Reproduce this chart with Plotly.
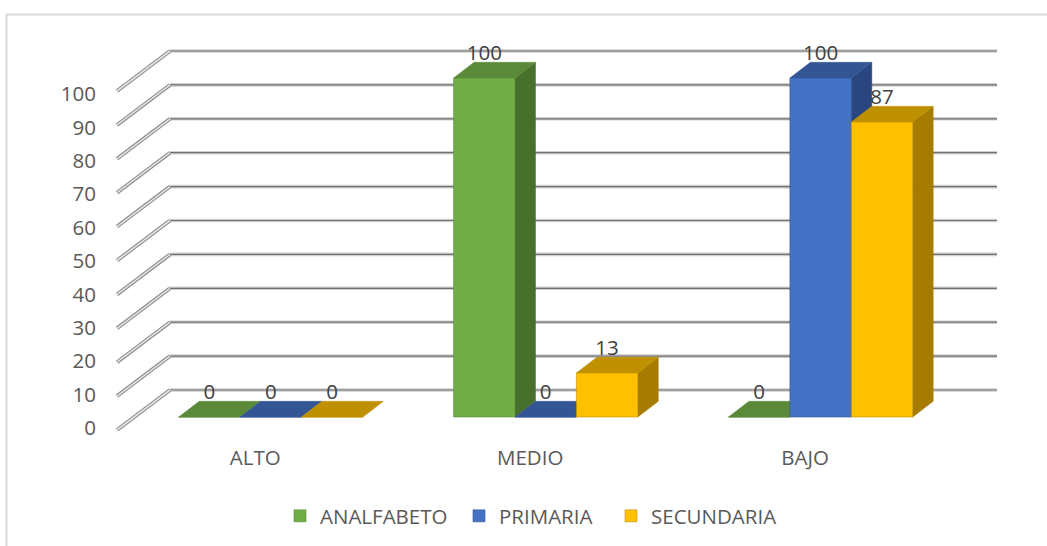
import plotly.graph_objects as go

# ---- data ----
categories = ["ALTO", "MEDIO", "BAJO"]
series_names = ["ANALFABETO", "PRIMARIA", "SECUNDARIA"]
analfabeto = [0, 100, 0]
primaria = [0, 0, 100]
secundaria = [0, 13, 87]
value_ticks = [0, 10, 20, 30, 40, 50, 60, 70, 80, 90, 100]

# ---- style ----
front_colors = ["#70ad47", "#4472c4", "#ffc000"]
top_colors = ["#5a8a39", "#335593", "#bf9000"]
side_colors = ["#47702d", "#2a4680", "#a67c00"]
legend_ids = ["legend", "legend2", "legend3"]
legend_x_px = [280, 459, 611]
FONT = "Open Sans, sans-serif"
FONT_SIZE = 20.5
W, H = 1047, 546

# pixel calibration of the oblique projection
X0_PX, X_STEP = 270.8, 274.9      # category 0 centre, px per category
Y0_PX, Y_STEP = 417.0, 3.39       # value 0 of the front plane, px per unit
BAR_W = 61.4 / X_STEP
DEPTH_X = 20.5 / X_STEP
DEPTH_Y = 15.7 / Y_STEP
WALL_BACK_X = (170 - X0_PX) / X_STEP
WALL_FRONT_X = (117 - X0_PX) / X_STEP
WALL_RIGHT_X = (997 - X0_PX) / X_STEP
WALL_BACK_DY = (Y0_PX - 390) / Y_STEP
WALL_FRONT_DY = (Y0_PX - 430) / Y_STEP

x_range = [-X0_PX / X_STEP, (W - X0_PX) / X_STEP]
y_range = [(Y0_PX - H) / Y_STEP, Y0_PX / Y_STEP]
tick_step = (428 - 94) / 100
y3_range = [(428 - H) / tick_step, 428 / tick_step]

all_series = [analfabeto, primaria, secundaria]
fig = go.Figure()

# walls: gridlines on the back wall and depth lines on the side wall
grid_x, grid_y, wall_x, wall_y = [], [], [], []
for v in value_ticks:
    grid_x += [WALL_BACK_X, WALL_RIGHT_X, None]
    grid_y += [v + WALL_BACK_DY, v + WALL_BACK_DY, None]
    wall_x += [WALL_FRONT_X, WALL_BACK_X, None]
    wall_y += [v + WALL_FRONT_DY, v + WALL_BACK_DY, None]
for xs, ys, styles in (
    (grid_x, grid_y, (("#cfcfcf", 3.6), ("#707070", 1.2))),
    (wall_x, wall_y, (("#8c8c8c", 3.8), ("#e2e2e2", 1.6))),
):
    for color, width in styles:
        fig.add_trace(go.Scatter(x=xs, y=ys, mode="lines", yaxis="y",
                                 line=dict(color=color, width=width),
                                 hoverinfo="skip", showlegend=False))

# depth faces (painted left to right, behind all front faces)
for c in range(len(categories)):
    for s, vals in enumerate(all_series):
        v = vals[c]
        left = c + (s - 1.5) * BAR_W
        right = left + BAR_W
        if v > 0:
            fig.add_trace(go.Scatter(
                x=[right, right + DEPTH_X, right + DEPTH_X, right, right],
                y=[0, DEPTH_Y, v + DEPTH_Y, v, 0],
                mode="lines", fill="toself", fillcolor=side_colors[s],
                line=dict(color=side_colors[s], width=0.5), yaxis="y",
                hoverinfo="skip", showlegend=False))
        fig.add_trace(go.Scatter(
            x=[left, right, right + DEPTH_X, left + DEPTH_X, left],
            y=[v, v, v + DEPTH_Y, v + DEPTH_Y, v],
            mode="lines", fill="toself", fillcolor=top_colors[s],
            line=dict(color=top_colors[s], width=0.5), yaxis="y",
            hoverinfo="skip", showlegend=False))

# front faces
for s, vals in enumerate(all_series):
    fig.add_trace(go.Bar(x=list(range(len(categories))), y=vals,
                         name=series_names[s], yaxis="y2",
                         legend=legend_ids[s],
                         width=BAR_W,
                         offset=(s - 1.5) * BAR_W,
                         marker=dict(color=front_colors[s],
                                     line=dict(color=top_colors[s], width=0.6))))

# data labels
for s, vals in enumerate(all_series):
    fig.add_trace(go.Scatter(
        x=[c + (s - 1) * BAR_W for c in range(len(categories))],
        y=[v + 23.5 / Y_STEP for v in vals],
        text=[str(v) for v in vals],
        mode="text", textposition="middle center", yaxis="y2",
        textfont=dict(family=FONT, size=FONT_SIZE, color="#404040"),
        hoverinfo="skip", showlegend=False))

# carrier for the value tick labels
fig.add_trace(go.Scatter(x=[0, 0], y=[0, 100], mode="markers", yaxis="y3",
                         marker=dict(opacity=0), hoverinfo="skip",
                         showlegend=False))

hidden = dict(visible=False, fixedrange=True)
legend_layouts = {
    lid: dict(orientation="h", x=px / W, xanchor="left",
              y=1 - 516 / H, yanchor="middle", bgcolor="rgba(0,0,0,0)",
              font=dict(family=FONT, size=FONT_SIZE, color="#595959"))
    for lid, px in zip(legend_ids, legend_x_px)
}
fig.update_layout(
    width=W, height=H,
    margin=dict(l=0, r=0, t=0, b=0),
    paper_bgcolor="white", plot_bgcolor="rgba(0,0,0,0)",
    font=dict(family=FONT, color="#595959", size=FONT_SIZE),
    barmode="overlay",
    xaxis=dict(range=x_range, domain=[0, 1],
               anchor="free", position=1 - Y0_PX / H,
               tickmode="array",
               tickvals=[i - 15.5 / X_STEP for i in range(len(categories))],
               ticktext=categories,
               ticks="outside", ticklen=22, tickcolor="rgba(0,0,0,0)",
               showgrid=False, zeroline=False, showline=False,
               tickfont=dict(family=FONT, size=FONT_SIZE, color="#595959")),
    yaxis=dict(range=y_range, domain=[0, 1], **hidden),
    yaxis2=dict(range=y_range, domain=[0, 1], overlaying="y", **hidden),
    yaxis3=dict(range=y3_range, domain=[0, 1], overlaying="y",
                anchor="free", position=96 / W, side="left",
                tickmode="array", tickvals=value_ticks,
                ticktext=[str(v) for v in value_ticks],
                showgrid=False, zeroline=False, showline=False, ticks="",
                tickfont=dict(family=FONT, size=FONT_SIZE, color="#595959")),
    shapes=[dict(type="rect", xref="paper", yref="paper", layer="below",
                 x0=6.5 / W, x1=1060 / W, y0=-0.05, y1=1 - 14.5 / H,
                 line=dict(color="#d9d9d9", width=2))],
    **legend_layouts,
)

fig.write_html("out.html",
               config={"displayModeBar": False},
               post_script="document.body.style.margin='0';"
                           "document.documentElement.style.overflow='hidden';")
